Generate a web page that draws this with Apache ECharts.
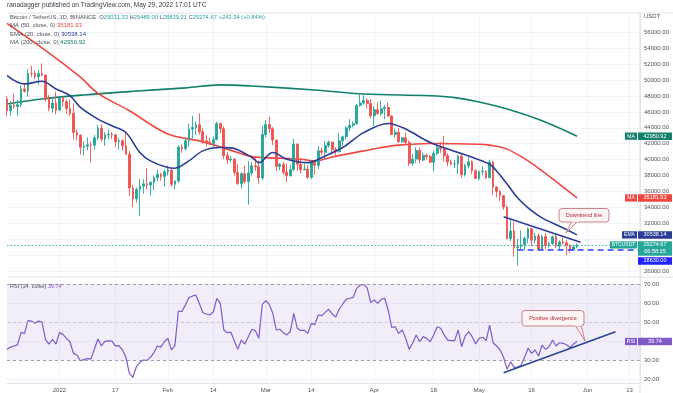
<!DOCTYPE html>
<html><head><meta charset="utf-8">
<script src="https://cdn.jsdelivr.net/npm/echarts@6/dist/echarts.min.js"></script>
<style>html,body{margin:0;padding:0;background:#fff}#c{width:673px;height:393px}</style>
</head><body><div id="c"></div>
<script>
// ---------------- DATA ----------------
const startDate = '2021-12-17';
const endDate = '2022-06-16';
const open = [
 47632,46131,46834,46681,46914,48889,48588,50838,50821,50429,50810,50640,47588,46464,47120,
 46216,47722,47286,46446,45833,43425,43082,41566,41679,41864,41822,42736,43946,42592,43099,43177,43113,42250,42375,41744,40680,36445,35071,36244,36660,36958,36809,37160,37716,38166,37881,
 38466,38690,36896,37311,41574,41382,42380,43840,44043,44372,43495,42373,42217,42053,42535,44544,43873,40515,39974,40079,38386,37008,38230,37250,38327,39219,39116,37699,
 43160,44421,43892,42454,39148,39397,38420,37988,38730,41941,39422,38730,38807,37777,39671,39280,41114,40917,41757,42201,41262,41002,42364,42882,43991,44313,44511,46827,47122,47434,47067,
 45510,46283,45811,46407,46580,45497,43170,43444,42252,42753,42158,39530,40074,41147,39942,40552,40378,39678,40801,41493,41358,40480,39709,39441,39450,40426,38112,39235,39742,38596,
 37630,38468,38525,37729,39690,36552,36013,35472,34039,30076,31017,28936,29047,29283,30101,31305,29862,30425,28715,30319,29201,29445,30293,29109,29655,29542,29201,28629,29031.33];
const high = [
 47995,47360,48300,47537,49328,49576,51375,51810,51156,51280,52088,50704,48140,47900,48548,
 47954,47990,47570,47505,47070,43749,43145,42300,42786,42248,43100,44322,44458,43448,43800,43478,43176,42675,42545,43505,41100,36835,36499,37550,37545,38919,37234,38000,38720,38359,38744,
 39265,38855,37387,41772,41913,42656,44500,45492,44799,45821,43920,43079,42760,42876,44751,44549,44164,40959,40444,40125,39494,38429,39249,39843,39683,40300,39855,44225,
 44949,45400,44101,42527,39594,39693,39547,39362,42594,42039,40236,39486,39310,39947,39887,41718,41478,42325,42400,42296,41544,43361,43025,44220,45094,44792,46999,48190,48097,47700,47600,
 46720,47213,47444,46890,47200,45507,43900,43970,42800,43410,42414,40699,41561,41500,40870,40709,40595,41116,41760,42199,42976,40795,39980,39940,40616,40797,39474,40372,39921,38795,
 38675,39167,38651,39980,39845,36675,36146,35510,34243,32658,32162,30033,31083,30343,31460,31308,30788,30700,30545,30777,29626,30487,30670,29845,30223,29876,29397,29251,29489.00];
const low = [
 45456,45500,46406,45558,46630,48421,47920,50384,50142,49412,50450,47313,46096,45900,45678,
 46208,46654,45696,45500,42500,42430,40610,40501,41200,39650,41268,42450,42311,41725,42555,42581,41540,41250,41138,40553,35440,34008,34601,32917,35701,36234,35507,36155,37268,37351,36632,
 38000,36586,36250,37026,40843,41116,41645,42666,43117,43174,42000,41688,41870,41570,42427,43307,40073,39450,39639,38000,36800,36350,37036,34322,38014,38600,37000,37450,
 42809,43334,41832,38550,38650,38088,37155,37867,38656,38539,38223,38660,37578,37555,38098,38828,40500,40135,41499,40911,40467,40875,41751,42560,43579,44071,44421,46664,46930,46445,45200,
 44200,45620,45530,45118,45353,43121,42727,42107,42125,41868,39200,39254,39588,39551,39766,39991,39546,38536,40571,40820,39751,39177,39285,38929,38200,37702,37881,38881,38175,37578,
 37386,38052,37511,37671,35571,35258,34785,33713,30033,29730,27785,26700,28751,28630,29480,29087,29460,28654,28691,28730,28947,29255,28853,28669,29294,28019,28282,28504,28839.21];
const close = [
 46131,46834,46681,46914,48889,48588,50838,50821,50429,50810,50640,47588,46464,47120,46216,
 47722,47286,46446,45833,43425,43082,41566,41679,41864,41822,42736,43946,42592,43099,43177,43113,42250,42375,41744,40680,36445,35071,36244,36660,36958,36809,37160,37716,38166,37881,38466,
 38690,36896,37311,41574,41382,42380,43840,44043,44372,43495,42373,42217,42053,42535,44544,43873,40515,39974,40079,38386,37008,38230,37250,38327,39219,39116,37699,43160,
 44421,43892,42454,39148,39397,38420,37988,38730,41941,39422,38730,38807,37777,39671,39280,41114,40917,41757,42201,41262,41002,42364,42882,43991,44313,44511,46827,47122,47434,47067,45510,
 46283,45811,46407,46580,45497,43170,43444,42252,42753,42158,39530,40074,41147,39942,40552,40378,39678,40801,41493,41358,40480,39709,39441,39450,40426,38112,39235,39742,38596,37630,
 38468,38525,37729,39690,36552,36013,35472,34039,30076,31017,28936,29047,29283,30101,31305,29862,30425,28715,30319,29201,29445,30293,29109,29655,29542,29201,28629,29031.33,29274.67];
const rsi = [
 35.6,36.8,37.4,38.0,44.4,44.0,50.7,50.5,49.3,50.5,50.0,40.9,38.4,40.9,38.4,
 44.4,43.5,41.4,39.6,33.5,32.6,29.6,30.2,30.7,30.6,35.8,41.1,37.4,39.8,40.1,39.9,37.4,37.6,35.3,31.4,23.0,20.9,26.5,28.8,30.0,29.8,31.4,33.8,37.4,36.8,39.6,
 41.4,35.3,37.4,55.8,55.5,58.9,62.8,63.6,64.2,59.8,54.9,54.2,53.7,55.4,62.5,59.8,45.8,44.4,44.7,40.0,35.6,40.5,38.4,42.3,46.2,45.5,41.4,59.3,
 61.2,59.3,54.6,45.8,46.2,44.4,43.2,45.0,54.6,46.7,45.5,45.7,43.9,49.3,48.6,53.7,53.4,55.1,56.7,54.2,52.6,56.7,59.5,62.0,62.5,63.0,67.7,69.5,69.8,68.0,60.2,
 61.6,59.8,61.9,62.5,56.3,47.2,47.5,44.0,45.8,41.5,35.6,39.0,43.2,39.6,42.3,41.4,39.6,43.2,47.5,46.7,43.2,40.5,40.2,40.2,45.8,37.0,42.6,44.9,42.3,38.4,
 41.4,42.0,40.2,48.4,39.1,37.4,35.3,31.4,25.1,29.1,26.1,26.3,27.2,31.4,36.2,33.5,35.3,32.1,37.9,35.6,37.0,40.5,37.4,39.1,38.8,38.0,36.6,38.4,39.74];
const ema20 = [['2021-12-17',50570],['2021-12-22',49520],['2021-12-27',49850],['2021-12-31',48890],['2022-01-04',48040],['2022-01-07',46570],['2022-01-12',45100],['2022-01-16',44260],['2022-01-20',43410],['2022-01-24',40900],['2022-01-27',39840],['2022-02-01',39000],['2022-02-03',38920],['2022-02-07',39840],['2022-02-11',41100],['2022-02-16',41520],['2022-02-19',41480],['2022-02-25',40300],['2022-02-27',39620],['2022-03-03',40890],['2022-03-07',40050],['2022-03-13',39620],['2022-03-18',40470],['2022-03-23',41520],['2022-03-29',43400],['2022-04-05',44550],['2022-04-10',43840],['2022-04-17',42150],['2022-04-25',40890],['2022-04-29',40300],['2022-05-04',39420],['2022-05-06',38580],['2022-05-09',36930],['2022-05-12',35200],['2022-05-15',33940],['2022-05-19',32680],['2022-05-24',31630],['2022-05-29',30538.14]];
const ma50 = [['2021-12-17',57140],['2021-12-28',53730],['2022-01-07',50360],['2022-01-12',48340],['2022-01-21',46150],['2022-02-01',43210],['2022-02-10',42360],['2022-02-18',41320],['2022-02-25',40380],['2022-03-01',40250],['2022-03-11',40050],['2022-03-15',39840],['2022-03-20',40340],['2022-03-29',41100],['2022-04-03',41520],['2022-04-08',41820],['2022-04-17',42020],['2022-05-01',41940],['2022-05-04',41820],['2022-05-09',41320],['2022-05-15',39840],['2022-05-19',38580],['2022-05-24',36900],['2022-05-29',35181.93]];
const ma200 = [['2021-12-17',47000],['2021-12-27',47630],['2022-01-08',48130],['2022-01-22',48590],['2022-02-06',49020],['2022-02-16',49400],['2022-02-25',49250],['2022-03-15',48760],['2022-03-29',48260],['2022-04-17',48040],['2022-04-24',47800],['2022-05-01',47250],['2022-05-09',46360],['2022-05-19',44890],['2022-05-29',42950.92]];
const downtrendLine = [['2022-05-08',32810],['2022-05-30',29610]];
const supportLine = [['2022-05-12',28630],['2022-06-16',28630]];
const rsiDivergenceLine = [['2022-05-08',23.3],['2022-06-09',44.9]];
const supportLevel = 28630;
const tickDates = ['2022-01-01','2022-01-17','2022-02-01','2022-02-14','2022-03-01','2022-03-14','2022-04-01','2022-04-18','2022-05-01','2022-05-16','2022-06-01','2022-06-13'];
const tickLabels = ['2022','17','Feb','14','Mar','14','Apr','18','May','16','Jun','13'];
const priceGridTicks = [26000,28000,30000,32000,34000,36000,38000,40000,42000,44000,46000,48000,50000,52000,54000,56000];
const priceLabelTicks = [26000,32000,34000,36000,38000,40000,42000,44000,46000,48000,50000,52000,54000,56000];
const rsiTicks = [20,30,40,50,60,70];
const ema20Last = 30538.14, ma50Last = 35181.93, ma200Last = 42950.92, rsiLast = 39.74;

// ---------------- BUILD ----------------
const FONT = '"Liberation Sans", Arial, sans-serif';
const DAY = 86400000;
const cats = [];
for (let t = Date.parse(startDate + 'T00:00:00Z'); t <= Date.parse(endDate + 'T00:00:00Z'); t += DAY) cats.push(new Date(t).toISOString().slice(0, 10));
const labelMap = {}; tickDates.forEach((d, i) => labelMap[d] = tickLabels[i]);
const isTick = (i, v) => labelMap[v] !== undefined;
const candleData = close.map((c, i) => [open[i], c, low[i], high[i]]);
const n = close.length;
const lastC = close[n - 1], prevC = close[n - 2];
const GRID = '#f0f3fa', BORDER = '#e0e3eb', AXT = '#50535e';
const UP = '#26a69a', DN = '#ef5350';

const chart = echarts.init(document.getElementById('c'));
const option = {
  animation: false,
  backgroundColor: '#ffffff',
  textStyle: { fontFamily: FONT },
  grid: [
    { left: 7, right: 33, top: 13, height: 264 },
    { left: 7, right: 33, top: 277, height: 106 }
  ],
  xAxis: [
    { type: 'category', gridIndex: 0, data: cats, boundaryGap: false,
      axisLine: { show: false }, axisTick: { show: false }, axisLabel: { show: false },
      splitLine: { show: true, interval: isTick, lineStyle: { color: GRID, width: 1 } } },
    { type: 'category', gridIndex: 1, data: cats, boundaryGap: false,
      axisLine: { show: true, lineStyle: { color: BORDER } }, axisTick: { show: false },
      axisLabel: { interval: isTick, formatter: v => labelMap[v] || '', fontSize: 6, color: AXT, margin: 4, fontFamily: FONT },
      splitLine: { show: true, interval: isTick, lineStyle: { color: GRID, width: 1 } } }
  ],
  yAxis: [
    { type: 'value', gridIndex: 0, position: 'right', min: 25243, max: 58436, scale: true,
      axisLine: { show: true, lineStyle: { color: BORDER } },
      axisTick: { show: false, customValues: priceGridTicks },
      axisLabel: { customValues: priceLabelTicks, formatter: v => v.toFixed(2), fontSize: 6, color: AXT, margin: 4, fontFamily: FONT },
      splitLine: { show: true, lineStyle: { color: GRID, width: 1 } } },
    { type: 'value', gridIndex: 1, position: 'right', min: 17.9, max: 73.7,
      axisLine: { show: true, lineStyle: { color: BORDER } },
      axisTick: { show: false, customValues: rsiTicks },
      axisLabel: { customValues: [20, 30, 50, 60, 70], formatter: v => v.toFixed(2), fontSize: 6, color: AXT, margin: 4, fontFamily: FONT },
      splitLine: { show: true, lineStyle: { color: GRID, width: 1 } } }
  ],
  series: [
    { type: 'line', xAxisIndex: 0, yAxisIndex: 0, data: ma200, smooth: 0.35, symbol: 'none', z: 3,
      lineStyle: { color: '#12806a', width: 1.6 } },
    { type: 'line', xAxisIndex: 0, yAxisIndex: 0, data: ma50, smooth: 0.35, symbol: 'none', z: 3,
      lineStyle: { color: '#f0463f', width: 1.6 } },
    { type: 'candlestick', xAxisIndex: 0, yAxisIndex: 0, data: candleData, barWidth: 2.2, z: 4,
      itemStyle: { color: UP, color0: DN, borderColor: UP, borderColor0: DN, borderWidth: 0.9 },
      markLine: { silent: true, symbol: 'none', label: { show: false },
        lineStyle: { type: [1.5, 2], color: '#3fb3a6', width: 1 },
        data: [{ yAxis: lastC }] } },
    { type: 'line', xAxisIndex: 0, yAxisIndex: 0, data: ema20, smooth: 0.35, symbol: 'none', z: 5,
      lineStyle: { color: '#2a3d96', width: 1.6 } },
    { type: 'line', xAxisIndex: 0, yAxisIndex: 0, data: downtrendLine, symbol: 'none', z: 6,
      lineStyle: { color: '#2a3d96', width: 1.5 } },
    { type: 'line', xAxisIndex: 0, yAxisIndex: 0, data: supportLine, symbol: 'none', z: 6,
      lineStyle: { color: '#2a3cff', width: 1.6, type: [6, 4] } },
    { type: 'line', xAxisIndex: 1, yAxisIndex: 1, data: rsi, symbol: 'none', z: 4,
      lineStyle: { color: '#8059c8', width: 1.2 },
      markArea: { silent: true, itemStyle: { color: 'rgba(126,87,194,0.1)' }, data: [[{ yAxis: 30 }, { yAxis: 70 }]] },
      markLine: { silent: true, symbol: 'none', label: { show: false },
        data: [
          { yAxis: 70, lineStyle: { type: [3, 3], color: '#888b96', width: 0.8 } },
          { yAxis: 50, lineStyle: { type: [3, 3], color: '#c2c4cc', width: 0.8 } },
          { yAxis: 30, lineStyle: { type: [3, 3], color: '#888b96', width: 0.8 } }
        ] } },
    { type: 'line', xAxisIndex: 1, yAxisIndex: 1, data: rsiDivergenceLine, symbol: 'none', z: 6,
      lineStyle: { color: '#2a4596', width: 1.7 } }
  ]
};
chart.setOption(option);

// ------------- overlays (texts, labels, callouts) -------------
const py = v => chart.convertToPixel({ yAxisIndex: 0 }, v);
const ry = v => chart.convertToPixel({ yAxisIndex: 1 }, v);
const g = [];
function T(x, y, text, size, color, align, extra) {
  return { type: 'text', x: x, y: y, z: 100, silent: true,
    style: Object.assign({ text: text, fontSize: size, fontFamily: FONT, fill: color,
      align: align || 'left', verticalAlign: 'middle', textAlign: align || 'left', textVerticalAlign: 'middle' }, extra || {}) };
}
function R(x, y, w, h, fill, stroke, r) {
  return { type: 'rect', z: 99, silent: true, shape: { x: x, y: y, width: w, height: h, r: r || 0 },
    style: { fill: fill, stroke: stroke || null, lineWidth: stroke ? 0.8 : 0 } };
}
function L(x1, y1, x2, y2, color) {
  return { type: 'line', z: 98, silent: true, shape: { x1: x1, y1: y1, x2: x2, y2: y2 }, style: { stroke: color, lineWidth: 1 } };
}
// frame lines
g.push(L(7, 13, 673, 13, BORDER));
g.push(L(7, 277, 673, 277, BORDER));
g.push(L(640, 13, 640, 393, BORDER));
// header
g.push(T(7, 5, 'ranadagger published on TradingView.com, May 29, 2022 17:01 UTC', 6.5, '#3a3d46'));
const f2 = v => v.toFixed(2);
const chg = lastC - prevC;
const RS = s => ({ g: { fill: '#50535e', fontSize: s, fontFamily: FONT } });
g.push(T(10, 17.3,
  '{g|Bitcoin / TetherUS, 1D, BINANCE}  {g|O}{v|' + f2(open[n-1]) + '} {g|H}{v|' + f2(high[n-1]) + '} {g|L}{v|' + f2(low[n-1]) + '} {g|C}{v|' + f2(lastC) + '} {v|+' + f2(chg) + ' (+' + (chg / prevC * 100).toFixed(2) + '%)}',
  5.8, '#50535e', 'left', { rich: { g: { fill: '#50535e', fontSize: 5.8, fontFamily: FONT }, v: { fill: UP, fontSize: 5.8, fontFamily: FONT } } }));
g.push(T(10, 25.7, '{g|MA (50, close, 0)} {v|' + f2(ma50Last) + '}', 6, '#50535e', 'left',
  { rich: { g: { fill: '#50535e', fontSize: 6, fontFamily: FONT }, v: { fill: '#f0463f', fontSize: 6, fontFamily: FONT } } }));
g.push(T(10, 34.3, '{g|EMA (20, close, 0)} {v|' + f2(ema20Last) + '}', 6, '#50535e', 'left',
  { rich: { g: { fill: '#50535e', fontSize: 6, fontFamily: FONT }, v: { fill: '#2a3d96', fontSize: 6, fontFamily: FONT } } }));
g.push(T(10, 42.7, '{g|MA (200, close, 0)} {v|' + f2(ma200Last) + '}', 6, '#50535e', 'left',
  { rich: { g: { fill: '#50535e', fontSize: 6, fontFamily: FONT }, v: { fill: '#12806a', fontSize: 6, fontFamily: FONT } } }));
g.push(T(10, 286, '{g|RSI (14, close)} {v|' + f2(rsiLast) + '}', 5.5, '#50535e', 'left',
  { rich: { g: { fill: '#50535e', fontSize: 5.5, fontFamily: FONT }, v: { fill: '#8059c8', fontSize: 5.5, fontFamily: FONT } } }));
g.push(T(644, 16, 'USDT', 6, AXT));

// right-hand price tags
function tag(y, tagText, tagW, valText, color, h) {
  h = h || 7.5;
  if (tagText) {
    g.push(R(637 - tagW, y - 3.6, tagW, 7.2, color));
    g.push(T(637 - tagW / 2, y, tagText, 5, '#fff', 'center'));
  }
  g.push(R(638, y - 3.75, 34, h, color));
  g.push(T(655, y, valText, 5.5, '#fff', 'center'));
}
tag(py(ma200Last), 'MA', 12, f2(ma200Last), '#12806a');
tag(py(ma50Last), 'MA', 12, f2(ma50Last), '#f0463f');
tag(py(ema20Last), 'EMA', 15, f2(ema20Last), '#2a3d96');
const yC = py(lastC);
tag(yC, 'BTCUSDT', 27, f2(lastC), '#26a69a', 14.5);
g.push(T(655, yC + 7, '06:58:35', 5.5, '#fff', 'center'));
tag(yC + 16, null, 0, f2(supportLevel), '#2222ff');
tag(ry(rsiLast), 'RSI', 12, f2(rsiLast), '#8059c8');

// callouts
const CB = '#c0646e', CF = '#fdf4f4', CT = '#b3263b';
g.push({ type: 'polygon', z: 99, silent: true, shape: { points: [[572, 221], [578, 221], [566, 233]] }, style: { fill: CF, stroke: CB, lineWidth: 0.8 } });
g.push(R(559, 208.5, 50, 13.5, CF, CB, 3));
g.push(R(571.5, 219.5, 7, 2.5, CF));
g.push(T(584, 215.3, 'Downtrend line', 5.5, CT, 'center'));
g.push({ type: 'polygon', z: 99, silent: true, shape: { points: [[575, 325], [581, 325], [585, 341]] }, style: { fill: CF, stroke: CB, lineWidth: 0.8 } });
g.push(R(522, 310.5, 62, 15.5, CF, CB, 3));
g.push(R(574.5, 323.5, 7, 2.5, CF));
g.push(T(553, 318.2, 'Positive divergence', 5.5, CT, 'center'));

chart.setOption({ graphic: { elements: g } });
</script>
</body></html>
